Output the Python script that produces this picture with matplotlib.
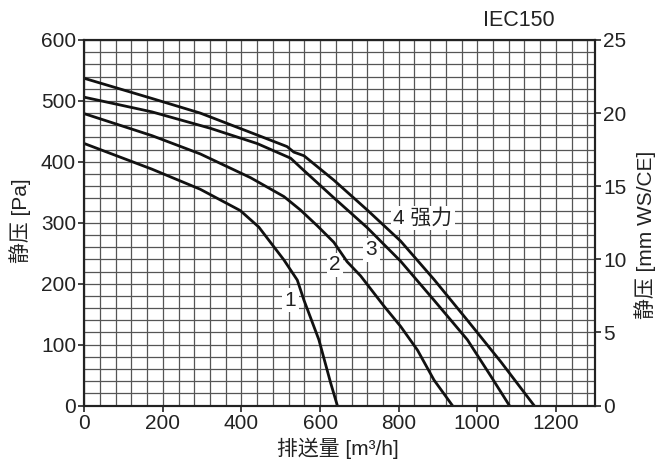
"""
IEC150 - curva de pressão estática x vazão (4 velocidades)
"""

import numpy as np
import matplotlib

matplotlib.use("Agg")
import matplotlib.pyplot as plt
from matplotlib.ticker import MultipleLocator


# ==================== DADOS ====================
# vazão [m3/h] e pressão estática [Pa]
flow_1 = [0, 172, 295, 397, 444, 508, 542, 559, 597, 627, 644]
pres_1 = [430, 388, 355, 320, 293, 239, 206, 173, 108, 37, 0]

flow_2 = [0, 172, 295, 423, 508, 550, 593, 635, 669, 703, 763, 805, 848, 890, 937]
pres_2 = [479, 443, 413, 374, 343, 321, 295, 268, 236, 213, 163, 130, 91, 42, 0]

flow_3 = [0, 172, 321, 440, 525, 550, 635, 720, 805, 890, 975, 1035, 1082]
pres_3 = [506, 482, 455, 430, 406, 391, 341, 292, 237, 173, 108, 48, 0]

flow_4 = [0, 172, 295, 440, 516, 533, 559, 635, 720, 805, 890, 975, 1060, 1145]
pres_4 = [537, 504, 480, 444, 425, 416, 410, 370, 321, 270, 207, 140, 72, 0]

curve_labels = ["1", "2", "3", "4 强力"]
label_pos = [(525, 173), (638, 231), (731, 256), (862, 308)]

x_ticks = [0, 200, 400, 600, 800, 1000, 1200]
pa_ticks = [0, 100, 200, 300, 400, 500, 600]
mm_ticks = [0, 5, 10, 15, 20, 25]

FONTS = ["Liberation Sans", "Noto Sans CJK SC", "DejaVu Sans"]
plt.rcParams["font.family"] = FONTS
plt.rcParams["font.size"] = 15

fig = plt.figure(figsize=(6.59, 4.70), dpi=100)
ax = fig.add_axes([0.128, 0.137, 0.775, 0.778])

# grade fina
ax.set_xlim(0, 1300)
ax.set_ylim(0, 600)
ax.xaxis.set_major_locator(MultipleLocator(200))
ax.xaxis.set_minor_locator(MultipleLocator(40))
ax.yaxis.set_major_locator(MultipleLocator(100))
ax.yaxis.set_minor_locator(MultipleLocator(20))
ax.grid(True, which="both", color="#555555", lw=0.9)
ax.set_axisbelow(True)

for fx, py in [(flow_1, pres_1), (flow_2, pres_2), (flow_3, pres_3), (flow_4, pres_4)]:
    ax.plot(fx, py, color="#111111", lw=2.0, solid_joinstyle="round", zorder=3)

for txt, (lx, ly) in zip(curve_labels, label_pos):
    ax.text(
        lx, ly, txt, ha="center", va="center", fontsize=15, color="#222222",
        bbox=dict(boxstyle="square,pad=0.12", facecolor="white", edgecolor="none"),
        zorder=2.5,
    )

ax.set_xticks(x_ticks)
ax.set_yticks(pa_ticks)
ax.tick_params(which="major", direction="out", length=4, width=1.2, pad=2,
               labelsize=15, colors="#222222")
ax.tick_params(which="minor", length=0)
for sp in ax.spines.values():
    sp.set_linewidth(1.5)
    sp.set_color("#222222")

ax2 = ax.twinx()
ax2.set_ylim(0, 25)
ax2.set_yticks(mm_ticks)
ax2.tick_params(direction="out", length=4, width=1.2, pad=2, labelsize=15,
                colors="#222222")
for sp in ax2.spines.values():
    sp.set_linewidth(1.5)
    sp.set_color("#222222")

# textos
fig.text(0.842, 0.957, "IEC150", ha="right", va="center", fontsize=15.5, color="#222222")
fig.text(0.030, 0.53, "静压 [Pa]", rotation=90, ha="center", va="center",
         fontsize=15, color="#222222")
fig.text(0.979, 0.50, "静压 [mm WS/CE]", rotation=90, ha="center", va="center",
         fontsize=15, color="#222222")
fig.text(0.513, 0.047, "排送量 [m³/h]", ha="center", va="center",
         fontsize=15, color="#222222")

plt.savefig("out.png", dpi=100)
plt.close()
